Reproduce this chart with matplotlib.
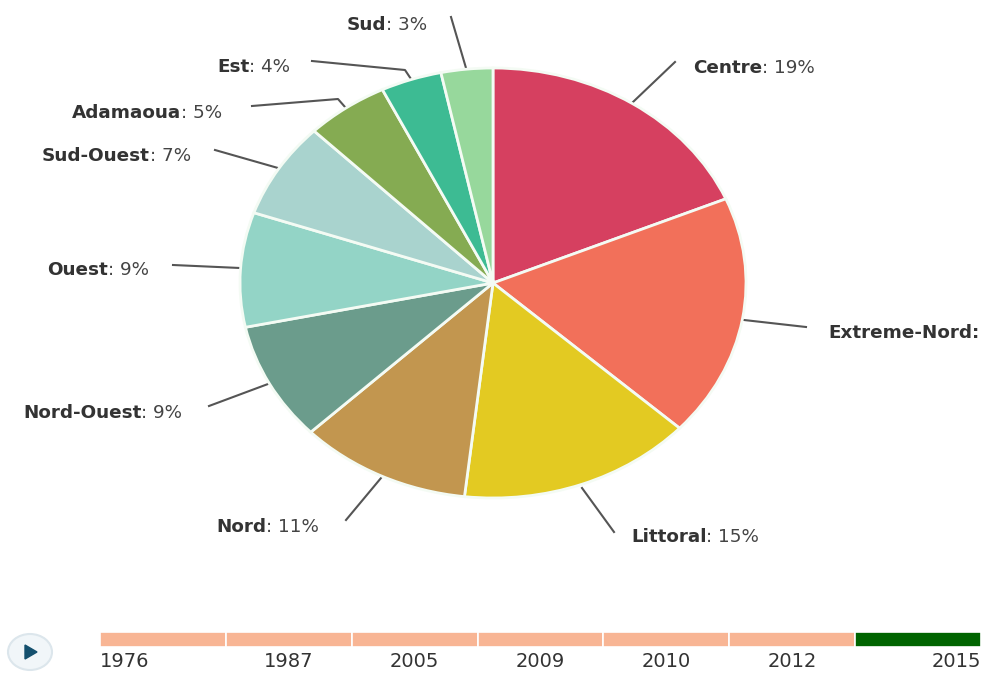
import matplotlib
matplotlib.use('Agg')
import matplotlib.pyplot as plt
from matplotlib.patches import Ellipse, Polygon

regions = ['Centre', 'Extreme-Nord', 'Littoral', 'Nord', 'Nord-Ouest', 'Ouest',
           'Sud-Ouest', 'Adamaoua', 'Est', 'Sud']
# slice sizes as measured on the picture
shares = [18.6, 18.2, 15.0, 11.0, 8.9, 8.6, 7.2, 5.3, 3.9, 3.3]
# the Extreme-Nord percentage is cut off by the picture edge
printed = ['19%', '', '15%', '11%', '9%', '9%', '7%', '5%', '4%', '3%']
years = ['1976', '1987', '2005', '2009', '2010', '2012', '2015']
selected_year = '2015'

colors = ['#D64060', '#F2705A', '#E3CA22', '#C2964F', '#6B9C8C', '#93D4C6',
          '#A9D3CE', '#85AB52', '#3DBB93', '#97D89C']

# layout in pixels of the picture
W, H = 983, 673
label_pos = [(693, 68), (828, 333), (631, 537), (216, 527), (23, 413), (47, 270),
             (42, 156), (72, 113), (217, 67), (347, 25)]
leaders = [
    [(675, 62), (633, 102)],
    [(806, 327), (744, 320)],
    [(614, 532), (582, 488)],
    [(346, 520), (381, 478)],
    [(209, 406), (268, 384)],
    [(173, 265), (240, 268)],
    [(215, 150), (278, 168)],
    [(252, 106), (338, 99), (345, 107)],
    [(312, 61), (405, 70), (411, 79)],
    [(451, 17), (466, 68)],
]

fig = plt.figure(figsize=(W / 100, H / 100), dpi=100)

# full figure axes in pixel coordinates, for labels and leader lines
bg = fig.add_axes([0, 0, 1, 1])
bg.set_xlim(0, W)
bg.set_ylim(H, 0)
bg.axis('off')

# the pie is an ellipse here, so its axes gets stretched
left, right, top, bottom = 240, 746, 68, 498
ax = fig.add_axes([left / W, 1 - bottom / H, (right - left) / W, (bottom - top) / H])
ax.pie(shares, colors=colors, startangle=90, counterclock=False, radius=1,
       wedgeprops={'edgecolor': '#F4FBF4', 'linewidth': 2})
ax.set_aspect('auto')
ax.set_xlim(-1, 1)
ax.set_ylim(-1, 1)

for pts in leaders:
    bg.plot([p[0] for p in pts], [p[1] for p in pts], color='#555555', lw=1.5)

fig.canvas.draw()
rend = fig.canvas.get_renderer()
for name, pct, (x, y) in zip(regions, printed, label_pos):
    txt = name + ':' if not pct else name
    t = bg.text(x, y, txt, fontsize=13.2, fontweight='bold', color='#333333', va='center')
    if pct:
        x_end = t.get_window_extent(rend).x1
        bg.text(x_end, y, ': ' + pct, fontsize=13.2, color='#444444', va='center')

# timeline along the bottom
tl = fig.add_axes([100 / W, 1 - 647 / H, 881 / W, 15 / H])
x_pos = list(range(len(years)))
bar_cols = ['#006400' if y == selected_year else '#F8B594' for y in years]
tl.bar(x_pos, [1] * len(years), width=1, align='edge', color=bar_cols,
       edgecolor='white', linewidth=1.2)
tl.set_xlim(0, len(years))
tl.set_ylim(0, 1)
tl.axis('off')

for i, y in enumerate(years):
    if i == 0:
        xx, ha = i, 'left'
    elif i == len(years) - 1:
        xx, ha = i + 1, 'right'
    else:
        xx, ha = i + 0.5, 'center'
    tl.text(xx, -0.95, y, fontsize=14, color='#333333', ha=ha, va='center')

# play button
bg.add_patch(Ellipse((30, 652), 44, 36, facecolor='#F1F6F9', edgecolor='#DCE6EC', lw=1.5))
bg.add_patch(Polygon([(25, 645), (25, 659), (37, 652)], closed=True, color='#14506E'))

fig.savefig('out.png', dpi=100)
